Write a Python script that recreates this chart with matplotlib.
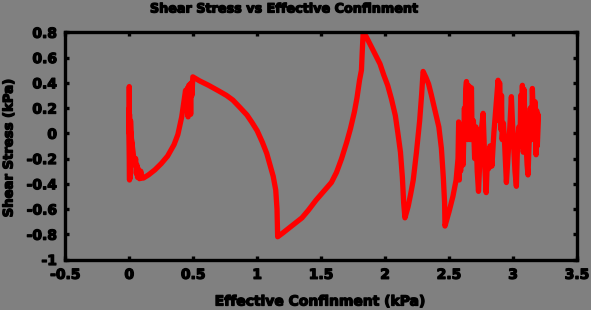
import matplotlib
matplotlib.use("Agg")
import matplotlib.pyplot as plt
import matplotlib.patheffects as pe

# Data (Effective confinement kPa, shear stress kPa)
conf = [0.0, 0.0, 0.002, 0.0, 0.004, 0.002, 0.005, 0.01, 0.02, 0.005, 0.03, 0.04, 0.05, 0.055, 0.06, 0.065, 0.07, 0.08, 0.09, 0.10, 0.11,
        0.15, 0.20, 0.25, 0.30, 0.35, 0.38, 0.41, 0.43, 0.44, 0.45, 0.455, 0.46, 0.465, 0.47, 0.475, 0.48, 0.485, 0.49, 0.497,
        0.55, 0.62, 0.70, 0.76, 0.81, 0.86, 0.92, 0.96, 1.00, 1.04, 1.075, 1.10, 1.125, 1.145, 1.155, 1.16,
        1.20, 1.25, 1.30, 1.35, 1.40, 1.46, 1.52, 1.58, 1.62, 1.66, 1.70, 1.73, 1.76, 1.78, 1.80, 1.815, 1.82, 1.828,
        1.85, 1.88, 1.92, 1.96, 1.99, 2.02, 2.05, 2.08, 2.10, 2.12, 2.135, 2.145, 2.155,
        2.18, 2.20, 2.22, 2.245, 2.27, 2.285, 2.297,
        2.32, 2.34, 2.36, 2.39, 2.42, 2.44, 2.455, 2.465, 2.468,
        2.50, 2.53, 2.555, 2.57, 2.575, 2.58, 2.585, 2.59, 2.60, 2.61, 2.62, 2.625, 2.63, 2.636, 2.645, 2.65, 2.655, 2.66, 2.665, 2.67, 2.675, 2.68,
        2.69, 2.70, 2.71, 2.72, 2.73, 2.745, 2.755, 2.766, 2.775, 2.78, 2.79, 2.80, 2.81, 2.82, 2.835, 2.85, 2.87, 2.883,
        2.89, 2.895, 2.905, 2.91, 2.915, 2.925, 2.935, 2.948, 2.96, 2.975, 2.987, 2.995, 3.005, 3.015, 3.026,
        3.035, 3.045, 3.055, 3.06, 3.068, 3.073, 3.08, 3.085, 3.09, 3.10, 3.11, 3.117, 3.125, 3.135, 3.145, 3.151, 3.16, 3.165, 3.172,
        3.18, 3.185, 3.19, 3.195, 3.19]
shear = [0.0, 0.37, -0.37, 0.2, -0.36, 0.15, -0.30, 0.10, -0.10, 0.05, -0.15, -0.25, -0.20, -0.32, -0.25, -0.35, -0.28, -0.36, -0.30, -0.355, -0.355,
         -0.33, -0.29, -0.24, -0.18, -0.09, -0.01, 0.13, 0.27, 0.34, 0.20, 0.36, 0.13, 0.38, 0.18, 0.39, 0.15, 0.40, 0.30, 0.447,
         0.415, 0.38, 0.335, 0.30, 0.263, 0.21, 0.145, 0.085, 0.02, -0.07, -0.16, -0.25, -0.34, -0.45, -0.60, -0.82,
         -0.79, -0.75, -0.71, -0.67, -0.61, -0.53, -0.46, -0.39, -0.31, -0.20, -0.07, 0.04, 0.17, 0.28, 0.42, 0.50, 0.62, 0.79,
         0.77, 0.71, 0.63, 0.55, 0.46, 0.38, 0.27, 0.14, 0.0, -0.15, -0.35, -0.55, -0.67,
         -0.58, -0.48, -0.37, -0.15, 0.10, 0.30, 0.49,
         0.44, 0.39, 0.31, 0.18, 0.05, -0.12, -0.35, -0.55, -0.735,
         -0.62, -0.50, -0.37, -0.20, 0.09, -0.37, 0.05, -0.30, -0.05, -0.25, 0.20, -0.05, 0.35, 0.41, -0.05, 0.38, 0.0, 0.37, -0.05, 0.30, 0.36, -0.05,
         0.10, -0.20, 0.05, -0.30, -0.46, -0.10, 0.05, 0.158, -0.10, -0.28, -0.47, -0.20, -0.28, -0.10, -0.26, 0.0, 0.25, 0.42,
         0.10, 0.40, 0.03, 0.30, -0.05, 0.08, -0.10, -0.39, -0.20, 0.05, 0.29, 0.10, -0.10, -0.30, -0.42,
         -0.10, 0.05, -0.10, 0.30, 0.10, 0.38, -0.15, 0.35, 0.20, -0.05, -0.25, -0.33, -0.10, 0.20, -0.05, 0.355, 0.10, -0.05, 0.25,
         -0.17, 0.18, -0.10, 0.15, -0.09]

xticks = [-0.5, 0, 0.5, 1, 1.5, 2, 2.5, 3, 3.5]
xticklabels = ["-0.5", "0", "0.5", "1", "1.5", "2", "2.5", "3", "3.5"]
yticks = [-1, -0.8, -0.6, -0.4, -0.2, 0, 0.2, 0.4, 0.6, 0.8]
yticklabels = ["-1", "-0.8", "-0.6", "-0.4", "-0.2", "0", "0.2", "0.4", "0.6", "0.8"]

plt.rcParams['font.family'] = ['DejaVu Sans']
plt.rcParams['font.weight'] = 'bold'

heavy = [pe.withStroke(linewidth=0.9, foreground='black')]

bg = "#808080"
fig = plt.figure(figsize=(5.91, 3.10), dpi=100, facecolor=bg)
ax = fig.add_axes([65.3/591, 1-259.5/310, (577-65.3)/591, (259.5-32.3)/310])
ax.set_facecolor(bg)

ax.plot(conf, shear, color="#ff0000", linewidth=3.8, solid_joinstyle='round', solid_capstyle='round')

ax.set_xlim(-0.5, 3.5)
ax.set_ylim(-1, 0.8)
ax.set_xticks(xticks)
ax.set_xticklabels(xticklabels, fontsize=10, fontweight='bold')
ax.set_yticks(yticks)
ax.set_yticklabels(yticklabels, fontsize=10, fontweight='bold')
for lab in ax.get_xticklabels() + ax.get_yticklabels():
    lab.set_path_effects(heavy)
ax.tick_params(direction='in', length=3, width=2.4, top=True, right=True, color='black', pad=6)
for s in ax.spines.values():
    s.set_linewidth(2.4)
    s.set_color('black')

fig.text(283.7/591, 1-9/310, "Shear Stress vs Effective Confinment", ha='center', va='center',
         fontsize=9.2, fontweight='bold', path_effects=heavy)
fig.text(320/591, 1-301.5/310, "Effective Confinment (kPa)", ha='center', va='center',
         fontsize=10, fontweight='bold', path_effects=heavy)
fig.text(9/591, 1-147.5/310, "Shear Stress (kPa)", ha='center', va='center', rotation=90,
         fontsize=9.5, fontweight='bold', path_effects=heavy)

fig.savefig("out.png", dpi=100, facecolor=bg)
